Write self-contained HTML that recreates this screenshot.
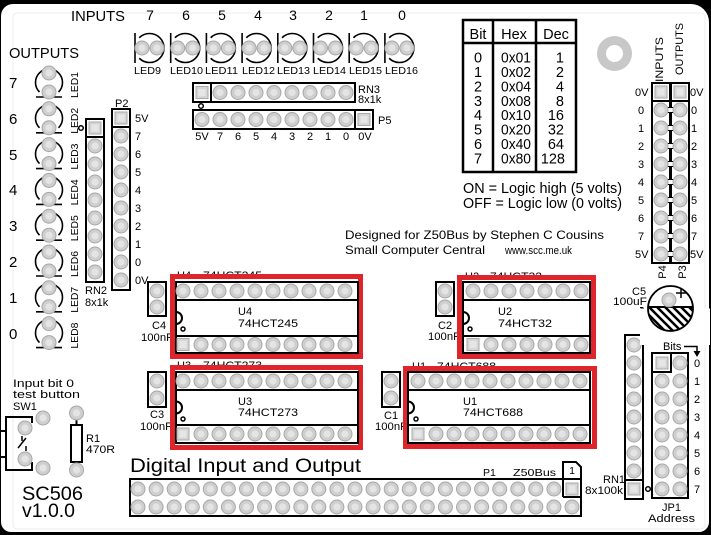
<!DOCTYPE html>
<html><head><meta charset="utf-8"><style>
html,body{margin:0;padding:0;background:#000;}
svg{display:block}
text{font-family:"Liberation Sans",sans-serif;fill:#000}
</style></head><body>
<svg width="711" height="535" viewBox="0 0 711 535" xmlns="http://www.w3.org/2000/svg">
<defs>
<g id="p"><circle r="7" fill="#cfcfcf" stroke="#a6a6a6" stroke-width="1"/><circle r="3.6" fill="#e4e4e4"/></g>
<g id="s"><rect x="-6" y="-6" width="12" height="12" fill="#d6d6d6" stroke="#aaaaaa" stroke-width="1"/><rect x="-3.5" y="-3.5" width="7" height="7" fill="#e6e6e6"/></g>
<g id="h6"><use href="#p"/><use href="#p" x="18"/><use href="#p" x="36"/><use href="#p" x="54"/><use href="#p" x="72"/><use href="#p" x="90"/></g>
<g id="h7"><use href="#h6"/><use href="#p" x="108"/></g>
<g id="h8"><use href="#h7"/><use href="#p" x="126"/></g>
<g id="h9"><use href="#h8"/><use href="#p" x="144"/></g>
<g id="h10"><use href="#h9"/><use href="#p" x="162"/></g>
<g id="v7"><use href="#p"/><use href="#p" y="18"/><use href="#p" y="36"/><use href="#p" y="54"/><use href="#p" y="72"/><use href="#p" y="90"/><use href="#p" y="108"/></g>
<g id="v8"><use href="#v7"/><use href="#p" y="126"/></g>
<g id="v9"><use href="#v8"/><use href="#p" y="144"/></g>
<g id="ledh"><g fill="none" stroke="#000" stroke-width="1.6"><line x1="-14.5" y1="-15" x2="-14.5" y2="15"/><path d="M-10.25,-10.25 A14.5,14.5 0 1 1 -10.25,10.25"/></g><use href="#p" x="-7.5"/><use href="#p" x="7.5"/></g>
<g id="ledv"><g fill="none" stroke="#000" stroke-width="1.6"><line x1="-13" y1="14.5" x2="13" y2="14.5"/><path d="M-9.5,9.5 A13.5,13.5 0 1 1 9.5,9.5"/></g><use href="#p" y="-9.5"/><use href="#p" y="9.5"/></g>
<clipPath id="c5clip"><rect x="640" y="307" width="70" height="40"/></clipPath>
</defs>

<!-- board -->
<path d="M13,4 H691 A18,18 0 0 1 709,22 V522 A10,10 0 0 1 699,532 H11 A10,10 0 0 1 1,522 V16 A12,12 0 0 1 13,4 Z" fill="#fff"/>
<rect x="13" y="13" width="692" height="516" rx="4" fill="none" stroke="#ececec" stroke-width="1"/>

<!-- top inputs -->
<text x="71" y="21" font-size="15" textLength="54" lengthAdjust="spacingAndGlyphs">INPUTS</text>
<g font-size="14" text-anchor="middle">
<text x="150" y="20">7</text><text x="186" y="20">6</text><text x="222" y="20">5</text><text x="258" y="20">4</text><text x="293" y="20">3</text><text x="329" y="20">2</text><text x="364" y="20">1</text><text x="402" y="20">0</text>
</g>
<use href="#ledh" x="149.5" y="48"/><use href="#ledh" x="185.2" y="48"/><use href="#ledh" x="220.9" y="48"/><use href="#ledh" x="256.6" y="48"/><use href="#ledh" x="292.3" y="48"/><use href="#ledh" x="328" y="48"/><use href="#ledh" x="363.7" y="48"/><use href="#ledh" x="399.4" y="48"/>
<g font-size="10.5">
<text x="134" y="74" textLength="27" lengthAdjust="spacingAndGlyphs">LED9</text>
<text x="170" y="74" textLength="33" lengthAdjust="spacingAndGlyphs">LED10</text>
<text x="205" y="74" textLength="33" lengthAdjust="spacingAndGlyphs">LED11</text>
<text x="242" y="74" textLength="33" lengthAdjust="spacingAndGlyphs">LED12</text>
<text x="277" y="74" textLength="33" lengthAdjust="spacingAndGlyphs">LED13</text>
<text x="313" y="74" textLength="33" lengthAdjust="spacingAndGlyphs">LED14</text>
<text x="349" y="74" textLength="33" lengthAdjust="spacingAndGlyphs">LED15</text>
<text x="385" y="74" textLength="33" lengthAdjust="spacingAndGlyphs">LED16</text>
</g>

<!-- outputs -->
<text x="9" y="58" font-size="15" textLength="70" lengthAdjust="spacingAndGlyphs">OUTPUTS</text>
<g font-size="15">
<text x="9" y="88">7</text><text x="9" y="124">6</text><text x="9" y="160">5</text><text x="9" y="195">4</text><text x="9" y="231">3</text><text x="9" y="267">2</text><text x="9" y="303">1</text><text x="9" y="339">0</text>
</g>
<use href="#ledv" x="49" y="82.5"/><use href="#ledv" x="49" y="118.3"/><use href="#ledv" x="49" y="154.1"/><use href="#ledv" x="49" y="189.9"/><use href="#ledv" x="49" y="225.7"/><use href="#ledv" x="49" y="261.5"/><use href="#ledv" x="49" y="297.3"/><use href="#ledv" x="49" y="333.1"/>
<g font-size="10.5" text-anchor="middle">
<text transform="translate(78,85) rotate(-90)" textLength="26" lengthAdjust="spacingAndGlyphs">LED1</text>
<text transform="translate(78,120.8) rotate(-90)" textLength="26" lengthAdjust="spacingAndGlyphs">LED2</text>
<text transform="translate(78,156.6) rotate(-90)" textLength="26" lengthAdjust="spacingAndGlyphs">LED3</text>
<text transform="translate(78,192.4) rotate(-90)" textLength="26" lengthAdjust="spacingAndGlyphs">LED4</text>
<text transform="translate(78,228.2) rotate(-90)" textLength="26" lengthAdjust="spacingAndGlyphs">LED5</text>
<text transform="translate(78,264) rotate(-90)" textLength="26" lengthAdjust="spacingAndGlyphs">LED6</text>
<text transform="translate(78,299.8) rotate(-90)" textLength="26" lengthAdjust="spacingAndGlyphs">LED7</text>
<text transform="translate(78,335.6) rotate(-90)" textLength="26" lengthAdjust="spacingAndGlyphs">LED8</text>
</g>

<!-- outlines -->
<g fill="none" stroke="#000" stroke-width="2">
<rect x="86" y="119" width="18" height="163"/><line x1="86" y1="137" x2="104" y2="137"/>
<rect x="112" y="109" width="18" height="181"/><line x1="112" y1="127" x2="130" y2="127"/>
<rect x="193" y="83" width="162" height="19"/><line x1="211" y1="83" x2="211" y2="102"/>
<rect x="193" y="110" width="180" height="19"/><line x1="355" y1="110" x2="355" y2="129"/>
<rect x="652" y="83" width="18" height="180"/><line x1="652" y1="101" x2="670" y2="101"/>
<rect x="671" y="83" width="18" height="180"/><line x1="671" y1="101" x2="689" y2="101"/>
<rect x="148" y="282" width="18" height="34"/>
<rect x="148" y="372" width="18" height="35"/>
<rect x="436" y="282" width="18" height="34"/>
<rect x="382" y="372" width="18" height="35"/>
<rect x="625" y="335" width="18" height="164"/><line x1="625" y1="480" x2="643" y2="480"/>
<rect x="652" y="353" width="36" height="145"/><path d="M652,372 H671 V353"/>
<rect x="130" y="479" width="451" height="37"/>
<path d="M563,497 V462 H576 L581,467 V497 H563"/>
<rect x="71" y="425" width="11" height="37"/>
<line x1="76.5" y1="419" x2="76.5" y2="425"/><line x1="76.5" y1="462" x2="76.5" y2="465"/>
<path d="M32,423 V417 H6 V470 H32 V462"/>
<line x1="0" y1="431" x2="6" y2="431"/><line x1="0" y1="457" x2="6" y2="457"/>
</g>
<g stroke="#000" stroke-width="1.5" fill="none">
<line x1="18" y1="448" x2="26" y2="438"/><line x1="22" y1="436" x2="22" y2="441"/><line x1="26" y1="446" x2="26" y2="451"/>
<circle cx="81" cy="128" r="2.3"/><circle cx="201" cy="106" r="2.3"/><circle cx="648" cy="489" r="2.3"/>
</g>
<!-- P4/P3 tabs -->
<g fill="#fff" stroke="#000" stroke-width="1">
<rect x="667" y="107.5" width="8" height="5"/><rect x="667" y="125.5" width="8" height="5"/><rect x="667" y="143.5" width="8" height="5"/><rect x="667" y="161.5" width="8" height="5"/><rect x="667" y="179.5" width="8" height="5"/><rect x="667" y="197.5" width="8" height="5"/><rect x="667" y="215.5" width="8" height="5"/><rect x="667" y="233.5" width="8" height="5"/><rect x="667" y="251.5" width="8" height="5"/>
</g>

<!-- pads -->
<use href="#s" x="95" y="128"/><use href="#v8" x="95" y="146"/>
<use href="#s" x="121" y="118"/><use href="#v9" x="121" y="136"/>
<use href="#s" x="202" y="92.5"/><use href="#h8" x="220" y="92.5"/>
<use href="#h9" x="202" y="119.5"/><use href="#s" x="364" y="119.5"/>
<use href="#s" x="661" y="92"/><use href="#v9" x="661" y="110"/>
<use href="#s" x="680" y="92"/><use href="#v9" x="680" y="110"/>
<use href="#p" x="157" y="291"/><use href="#p" x="157" y="307"/>
<use href="#p" x="157" y="381"/><use href="#p" x="157" y="398"/>
<use href="#p" x="445" y="291"/><use href="#p" x="445" y="307"/>
<use href="#p" x="391" y="381"/><use href="#p" x="391" y="398"/>
<use href="#v8" x="634" y="345"/><use href="#s" x="634" y="489"/>
<use href="#s" x="662" y="363"/><use href="#v7" x="662" y="381"/><use href="#v8" x="680" y="363"/>
<use href="#p" x="25" y="428"/><use href="#p" x="25" y="459"/><use href="#p" x="43" y="418"/><use href="#p" x="43" y="468"/>
<use href="#p" x="76.5" y="413"/><use href="#p" x="76.5" y="470"/>
<g>
<use href="#p" x="138" y="489"/><use href="#p" x="156.1" y="489"/><use href="#p" x="174.2" y="489"/><use href="#p" x="192.3" y="489"/><use href="#p" x="210.3" y="489"/><use href="#p" x="228.4" y="489"/><use href="#p" x="246.5" y="489"/><use href="#p" x="264.6" y="489"/><use href="#p" x="282.7" y="489"/><use href="#p" x="300.8" y="489"/><use href="#p" x="318.8" y="489"/><use href="#p" x="336.9" y="489"/><use href="#p" x="355" y="489"/><use href="#p" x="373.1" y="489"/><use href="#p" x="391.2" y="489"/><use href="#p" x="409.3" y="489"/><use href="#p" x="427.3" y="489"/><use href="#p" x="445.4" y="489"/><use href="#p" x="463.5" y="489"/><use href="#p" x="481.6" y="489"/><use href="#p" x="499.7" y="489"/><use href="#p" x="517.8" y="489"/><use href="#p" x="535.8" y="489"/><use href="#p" x="553.9" y="489"/><use href="#s" x="572" y="489"/>
<use href="#p" x="138" y="507"/><use href="#p" x="156.1" y="507"/><use href="#p" x="174.2" y="507"/><use href="#p" x="192.3" y="507"/><use href="#p" x="210.3" y="507"/><use href="#p" x="228.4" y="507"/><use href="#p" x="246.5" y="507"/><use href="#p" x="264.6" y="507"/><use href="#p" x="282.7" y="507"/><use href="#p" x="300.8" y="507"/><use href="#p" x="318.8" y="507"/><use href="#p" x="336.9" y="507"/><use href="#p" x="355" y="507"/><use href="#p" x="373.1" y="507"/><use href="#p" x="391.2" y="507"/><use href="#p" x="409.3" y="507"/><use href="#p" x="427.3" y="507"/><use href="#p" x="445.4" y="507"/><use href="#p" x="463.5" y="507"/><use href="#p" x="481.6" y="507"/><use href="#p" x="499.7" y="507"/><use href="#p" x="517.8" y="507"/><use href="#p" x="535.8" y="507"/><use href="#p" x="553.9" y="507"/><use href="#p" x="572" y="507"/>
</g>

<!-- mounting hole -->
<circle cx="614.5" cy="53.5" r="17.5" fill="#c8c8c8"/><circle cx="614.5" cy="53.5" r="8.5" fill="#fff"/>

<!-- table -->
<g fill="none" stroke="#000" stroke-width="2.5">
<rect x="463" y="20" width="113" height="152"/>
<line x1="463" y1="43" x2="576" y2="43"/><line x1="493" y1="20" x2="493" y2="172"/><line x1="536" y1="20" x2="536" y2="172"/>
</g>
<g font-size="14.5">
<text x="478" y="39" text-anchor="middle">Bit</text><text x="514" y="39" text-anchor="middle">Hex</text><text x="556" y="39" text-anchor="middle">Dec</text>
<g text-anchor="middle">
<text x="478" y="62.5">0</text><text x="478" y="76.9">1</text><text x="478" y="91.4">2</text><text x="478" y="105.8">3</text><text x="478" y="120.2">4</text><text x="478" y="134.6">5</text><text x="478" y="149.1">6</text><text x="478" y="163.5">7</text>
</g>
<text x="501" y="62.5" textLength="30" lengthAdjust="spacingAndGlyphs">0x01</text><text x="501" y="76.9" textLength="30" lengthAdjust="spacingAndGlyphs">0x02</text><text x="501" y="91.4" textLength="30" lengthAdjust="spacingAndGlyphs">0x04</text><text x="501" y="105.8" textLength="30" lengthAdjust="spacingAndGlyphs">0x08</text><text x="501" y="120.2" textLength="30" lengthAdjust="spacingAndGlyphs">0x10</text><text x="501" y="134.6" textLength="30" lengthAdjust="spacingAndGlyphs">0x20</text><text x="501" y="149.1" textLength="30" lengthAdjust="spacingAndGlyphs">0x40</text><text x="501" y="163.5" textLength="30" lengthAdjust="spacingAndGlyphs">0x80</text>
<g text-anchor="end">
<text x="564" y="62.5">1</text><text x="564" y="76.9">2</text><text x="564" y="91.4">4</text><text x="564" y="105.8">8</text><text x="564" y="120.2">16</text><text x="564" y="134.6">32</text><text x="564" y="149.1">64</text><text x="565" y="163.5">128</text>
</g>
</g>
<text x="463" y="193" font-size="14.4" textLength="159" lengthAdjust="spacingAndGlyphs">ON = Logic high (5 volts)</text>
<text x="463" y="208" font-size="14.4" textLength="159" lengthAdjust="spacingAndGlyphs">OFF = Logic low (0 volts)</text>

<!-- P4/P3 labels -->
<g font-size="11">
<text transform="translate(663,59.5) rotate(-90)" text-anchor="middle" textLength="45" lengthAdjust="spacingAndGlyphs">INPUTS</text>
<text transform="translate(683,49) rotate(-90)" text-anchor="middle" textLength="52" lengthAdjust="spacingAndGlyphs">OUTPUTS</text>
<text transform="translate(666,272) rotate(-90)" text-anchor="middle">P4</text>
<text transform="translate(686,272) rotate(-90)" text-anchor="middle">P3</text>
<text x="635" y="96">0V</text><text x="635" y="258">5V</text>
<g text-anchor="middle"><text x="641" y="114">0</text><text x="641" y="132">1</text><text x="641" y="150">2</text><text x="641" y="168">3</text><text x="641" y="186">4</text><text x="641" y="204">5</text><text x="641" y="222">6</text><text x="641" y="240">7</text></g>
<text x="690" y="96">0V</text><text x="690" y="258">5V</text>
<text x="691" y="114">0</text><text x="691" y="132">1</text><text x="691" y="150">2</text><text x="691" y="168">3</text><text x="691" y="186">4</text><text x="691" y="204">5</text><text x="691" y="222">6</text><text x="691" y="240">7</text>
</g>

<!-- header labels -->
<g font-size="11">
<text x="115" y="107">P2</text>
<text x="135" y="122">5V</text><text x="135" y="140">7</text><text x="135" y="158">6</text><text x="135" y="176">5</text><text x="135" y="194">4</text><text x="135" y="212">3</text><text x="135" y="230">2</text><text x="135" y="248">1</text><text x="135" y="266">0</text><text x="135" y="284">0V</text>
<text x="85" y="294">RN2</text><text x="85" y="306">8x1k</text>
<text x="358" y="93">RN3</text><text x="358" y="103">8x1k</text>
<text x="378" y="124">P5</text>
<g text-anchor="middle"><text x="202" y="140">5V</text><text x="220" y="140">7</text><text x="238" y="140">6</text><text x="256" y="140">5</text><text x="274" y="140">4</text><text x="292" y="140">3</text><text x="310" y="140">2</text><text x="328" y="140">1</text><text x="346" y="140">0</text><text x="365" y="140">0V</text></g>
</g>

<text x="345" y="239" font-size="12" textLength="259" lengthAdjust="spacingAndGlyphs">Designed for Z50Bus by Stephen C Cousins</text>
<text x="345" y="254" font-size="12" textLength="140" lengthAdjust="spacingAndGlyphs">Small Computer Central</text>
<text x="505" y="254" font-size="11" textLength="67" lengthAdjust="spacingAndGlyphs">www.scc.me.uk</text>

<!-- hidden IC ref labels -->
<g font-size="11">
<text x="177" y="279">U4</text><text x="203" y="279" textLength="59" lengthAdjust="spacingAndGlyphs">74HCT245</text>
<text x="177" y="369">U3</text><text x="203" y="369" textLength="59" lengthAdjust="spacingAndGlyphs">74HCT273</text>
<text x="465" y="280">U2</text><text x="490" y="280" textLength="52" lengthAdjust="spacingAndGlyphs">74HCT32</text>
<text x="412" y="370">U1</text><text x="437" y="370" textLength="59" lengthAdjust="spacingAndGlyphs">74HCT688</text>
</g>

<!-- C labels -->
<g font-size="11">
<text x="152" y="329">C4</text><text x="141" y="341" textLength="32" lengthAdjust="spacingAndGlyphs">100nF</text>
<text x="150" y="418">C3</text><text x="140" y="430" textLength="32" lengthAdjust="spacingAndGlyphs">100nF</text>
<text x="438" y="329">C2</text><text x="428" y="340" textLength="32" lengthAdjust="spacingAndGlyphs">100nF</text>
<text x="384" y="419">C1</text><text x="375" y="430" textLength="32" lengthAdjust="spacingAndGlyphs">100nF</text>
</g>

<!-- red highlight boxes -->
<g fill="#fff" stroke="#e0242b" stroke-width="5">
<rect x="172.5" y="276.5" width="188" height="80"/>
<rect x="172.5" y="367.5" width="188" height="80"/>
<rect x="459.5" y="277.5" width="134" height="79"/>
<rect x="405.5" y="368.5" width="189" height="78"/>
</g>
<!-- ICs -->
<g fill="none" stroke="#000" stroke-width="2">
<rect x="176" y="282" width="182" height="71"/><line x1="176" y1="300" x2="358" y2="300"/><line x1="176" y1="336" x2="358" y2="336"/>
<path d="M176,312 A6,6 0 0 1 176,324"/>
<rect x="176" y="372" width="182" height="71"/><line x1="176" y1="390" x2="358" y2="390"/><line x1="176" y1="425" x2="358" y2="425"/>
<path d="M176,401.5 A6,6 0 0 1 176,413.5"/>
<rect x="463" y="282" width="127" height="71"/><line x1="463" y1="300" x2="590" y2="300"/><line x1="463" y1="336" x2="590" y2="336"/>
<path d="M463,312 A6,6 0 0 1 463,324"/>
<rect x="408" y="372" width="182" height="71"/><line x1="408" y1="390" x2="590" y2="390"/><line x1="408" y1="425" x2="590" y2="425"/>
<path d="M408,401.5 A6,6 0 0 1 408,413.5"/>
</g>
<g fill="none" stroke="#000" stroke-width="1.5">
<circle cx="183" cy="329" r="2"/><circle cx="183" cy="419" r="2"/><circle cx="470" cy="329" r="2"/><circle cx="416" cy="419" r="2"/>
</g>
<use href="#h10" x="183" y="291"/><use href="#s" x="183" y="344.5"/><use href="#h9" x="201" y="344.5"/>
<use href="#h10" x="183" y="381"/><use href="#s" x="183" y="434"/><use href="#h9" x="201" y="434"/>
<use href="#h7" x="473" y="291"/><use href="#s" x="473" y="344.5"/><use href="#h6" x="491" y="344.5"/>
<use href="#h10" x="418" y="381"/><use href="#s" x="418" y="434"/><use href="#h9" x="436" y="434"/>
<g font-size="11">
<text x="238" y="315">U4</text><text x="238" y="327" textLength="60" lengthAdjust="spacingAndGlyphs">74HCT245</text>
<text x="238" y="405">U3</text><text x="238" y="416" textLength="60" lengthAdjust="spacingAndGlyphs">74HCT273</text>
<text x="498" y="315">U2</text><text x="498" y="327" textLength="54" lengthAdjust="spacingAndGlyphs">74HCT32</text>
<text x="463" y="405">U1</text><text x="463" y="416" textLength="60" lengthAdjust="spacingAndGlyphs">74HCT688</text>
</g>

<!-- C5 -->
<g clip-path="url(#c5clip)" stroke="#000" stroke-width="2.5">
<line x1="640" y1="290" x2="690" y2="340"/><line x1="648" y1="290" x2="698" y2="340"/><line x1="656" y1="290" x2="706" y2="340"/><line x1="664" y1="290" x2="714" y2="340"/><line x1="632" y1="290" x2="682" y2="340"/><line x1="624" y1="290" x2="674" y2="340"/><line x1="616" y1="290" x2="666" y2="340"/><line x1="672" y1="290" x2="722" y2="340"/>
</g>
<path d="M648,308.5 A22.5,22.5 0 0 0 693,308.5 L710,308.5 L710,345 L640,345 L640,308.5 Z" fill="#fff"/>
<circle cx="670.5" cy="308.5" r="22.5" fill="none" stroke="#000" stroke-width="1.8"/>
<line x1="648" y1="307" x2="693" y2="307" stroke="#000" stroke-width="2"/>
<use href="#p" x="669" y="300"/>
<path d="M676,293 H686 M681,288 V298" stroke="#000" stroke-width="1.5"/>
<g font-size="11">
<text x="632" y="295">C5</text><text x="613" y="305" textLength="34" lengthAdjust="spacingAndGlyphs">100uF</text>
<text x="603" y="483">RN1</text><text x="585" y="494" textLength="38" lengthAdjust="spacingAndGlyphs">8x100k</text>
<text x="663" y="350">Bits</text>
<text x="694" y="367">0</text><text x="694" y="385">1</text><text x="694" y="403">2</text><text x="694" y="421">3</text><text x="694" y="439">4</text><text x="694" y="457">5</text><text x="694" y="475">6</text><text x="694" y="493">7</text>
<text x="662" y="511">JP1</text><text x="648" y="522" textLength="47" lengthAdjust="spacingAndGlyphs">Address</text>
</g>
<path d="M684,346.5 H697 V352" fill="none" stroke="#000" stroke-width="1.5"/>
<polygon points="693.5,351 700.5,351 697,357" fill="#000"/>

<!-- bottom left -->
<g font-size="11">
<text x="13" y="387" textLength="61" lengthAdjust="spacingAndGlyphs">Input bit 0</text>
<text x="13" y="398" textLength="67" lengthAdjust="spacingAndGlyphs">test button</text>
<text x="13" y="410">SW1</text>
<text x="86" y="442">R1</text><text x="86" y="453" textLength="29" lengthAdjust="spacingAndGlyphs">470R</text>
</g>
<text x="22" y="500" font-size="19" textLength="61" lengthAdjust="spacingAndGlyphs">SC506</text>
<text x="22" y="517" font-size="19" textLength="53" lengthAdjust="spacingAndGlyphs">v1.0.0</text>

<text x="130" y="472" font-size="19" textLength="231" lengthAdjust="spacingAndGlyphs">Digital Input and Output</text>
<text x="483" y="476" font-size="10.5">P1</text>
<text x="513" y="476" font-size="10.5" textLength="43" lengthAdjust="spacingAndGlyphs">Z50Bus</text>
<text x="572" y="474" font-size="10.5" text-anchor="middle">1</text>
</svg>
</body></html>
